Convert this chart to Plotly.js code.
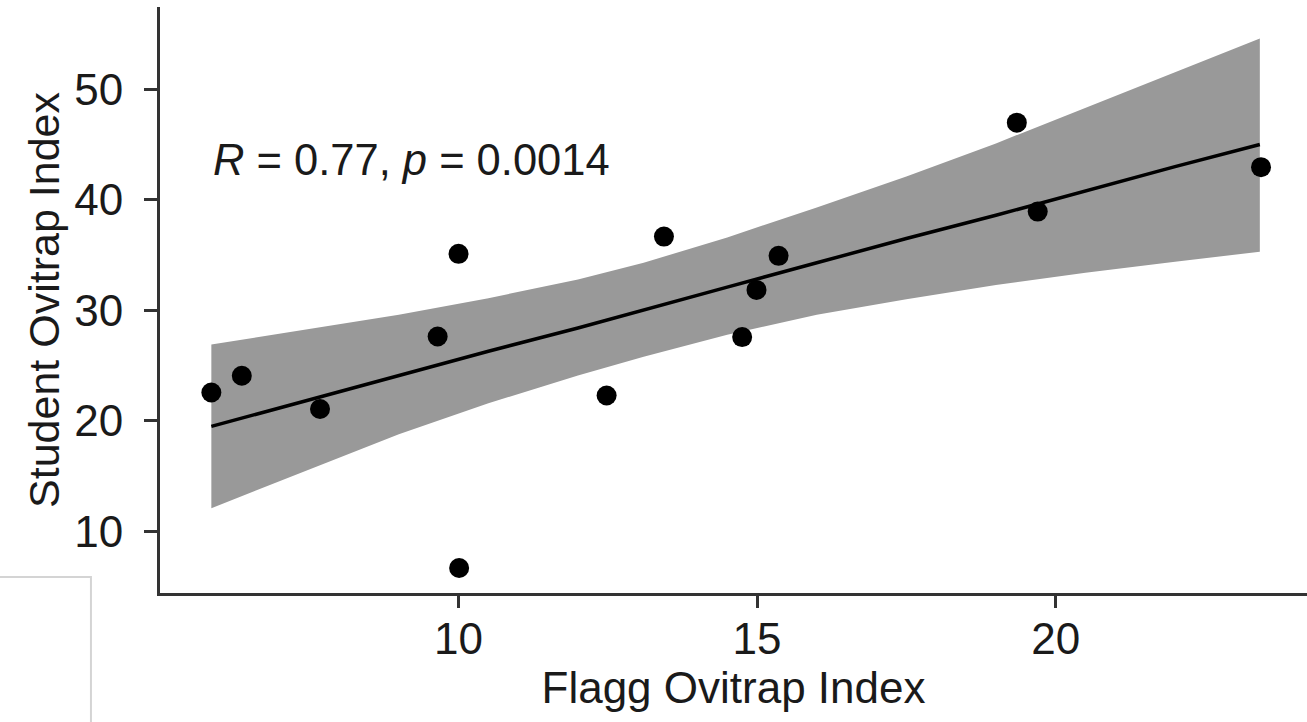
<!DOCTYPE html>
<html>
<head>
<meta charset="utf-8">
<script src="https://cdn.plot.ly/plotly-3.0.1.min.js"></script>
<style>
  html, body { margin: 0; padding: 0; background: #ffffff; }
  #chart { width: 1307px; height: 722px; }
</style>
</head>
<body>
<div id="chart"></div>
<script>
// Scatter points
const flaggIndex   = [5.86, 6.37, 7.68, 9.65, 10.00, 10.01, 12.48, 13.44, 14.75, 14.99, 15.36, 19.35, 19.70, 23.44];
const studentIndex = [22.57, 24.08, 21.07, 27.63, 35.11, 6.69, 22.30, 36.67, 27.58, 31.85, 34.93, 46.98, 38.93, 42.95];

// Fitted line and its confidence band, read along x
const bandX    = [5.86, 7.5, 9.0, 10.5, 12.0, 13.1, 14.5, 16.0, 17.5, 19.0, 20.5, 22.0, 23.42];
const bandLow  = [12.1, 15.6, 18.8, 21.6, 24.1, 25.8, 27.8, 29.6, 31.0, 32.3, 33.4, 34.4, 35.3];
const bandHigh = [26.9, 28.3, 29.6, 31.1, 32.8, 34.3, 36.6, 39.3, 42.1, 45.1, 48.3, 51.5, 54.6];
const fitLine  = [19.5, 21.9, 24.1, 26.3, 28.4, 30.0, 32.1, 34.3, 36.5, 38.6, 40.8, 43.0, 45.0];

const xTicks = [10, 15, 20];
const yTicks = [10, 20, 30, 40, 50];
const corrLabel = '<i>R</i> = 0.77, <i>p</i> = 0.0014';
const xTitle = 'Flagg Ovitrap Index';
const yTitle = 'Student Ovitrap Index';

const FONT = 'Liberation Sans, Arial, sans-serif';

const traces = [
  { x: bandX, y: bandLow, type: 'scatter', mode: 'lines', line: { width: 0, color: '#999999' },
    hoverinfo: 'skip', showlegend: false },
  { x: bandX, y: bandHigh, type: 'scatter', mode: 'lines', fill: 'tonexty', fillcolor: '#999999',
    line: { width: 0, color: '#999999' }, hoverinfo: 'skip', showlegend: false },
  { x: bandX, y: fitLine, type: 'scatter', mode: 'lines', line: { width: 3.5, color: '#000000' },
    showlegend: false },
  { x: flaggIndex, y: studentIndex, type: 'scatter', mode: 'markers',
    marker: { size: 20, color: '#000000' }, showlegend: false }
];

const layout = {
  width: 1307, height: 722,
  margin: { l: 160, r: 0, t: 7, b: 129, pad: 0 },
  paper_bgcolor: '#ffffff', plot_bgcolor: '#ffffff',
  font: { family: FONT, color: '#1a1a1a' },
  showlegend: false,
  xaxis: {
    range: [5.0, 24.21], tickvals: xTicks, ticktext: xTicks.map(String),
    showgrid: false, zeroline: false, showline: true, linecolor: '#333333', linewidth: 3,
    ticks: 'outside', ticklen: 12, tickwidth: 3, tickcolor: '#333333',
    tickfont: { family: FONT, size: 44, color: '#1a1a1a' }, ticklabelstandoff: -7,
    title: { text: xTitle, font: { family: FONT, size: 44, color: '#1a1a1a' }, standoff: 6 }
  },
  yaxis: {
    range: [4.43, 57.44], tickvals: yTicks, ticktext: yTicks.map(String),
    showgrid: false, zeroline: false, showline: true, linecolor: '#333333', linewidth: 3,
    ticks: 'outside', ticklen: 13, tickwidth: 3, tickcolor: '#333333',
    tickfont: { family: FONT, size: 44, color: '#1a1a1a' }, ticklabelstandoff: 12,
    title: { text: yTitle, font: { family: FONT, size: 43, color: '#1a1a1a' }, standoff: 2 }
  },
  annotations: [{
    x: 5.86, y: 43.6, xref: 'x', yref: 'y', xanchor: 'left', yanchor: 'middle',
    text: corrLabel, showarrow: false, font: { family: FONT, size: 43.5, color: '#1a1a1a' }
  }],
  shapes: [{
    type: 'rect', xref: 'paper', yref: 'paper', x0: -0.15, x1: -0.0602, y0: -0.25, y1: 0.0273,
    line: { color: '#d4d4d4', width: 2 }, fillcolor: 'rgba(0,0,0,0)', layer: 'above'
  }]
};

Plotly.newPlot('chart', traces, layout, { displayModeBar: false, staticPlot: true });
</script>
</body>
</html>
